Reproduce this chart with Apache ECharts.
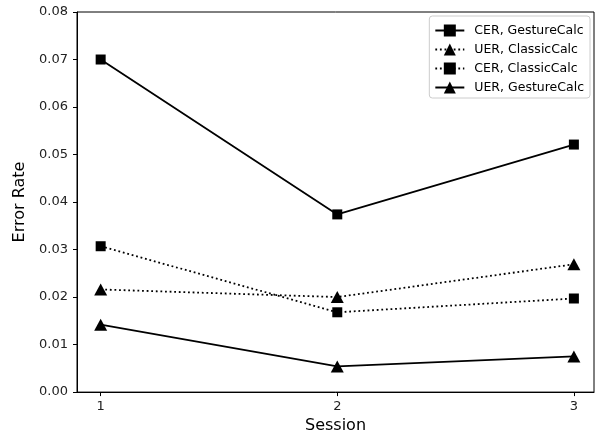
<!DOCTYPE html>
<html>
<head>
<meta charset="utf-8">
<script src="https://cdn.jsdelivr.net/npm/echarts@6/dist/echarts.min.js"></script>
<style>html,body{margin:0;padding:0;background:#fff;}#c{width:600px;height:439px;}</style>
</head>
<body>
<div id="c"></div>
<script>
const sessions = [1, 2, 3];
const yTicks = [0, 0.01, 0.02, 0.03, 0.04, 0.05, 0.06, 0.07, 0.08];
const cerGesture = [0.0700, 0.0374, 0.0521];
const uerClassic = [0.0216, 0.0200, 0.0269];
const cerClassic = [0.0307, 0.0168, 0.0197];
const uerGesture = [0.0142, 0.0054, 0.0075];

const FONT = 'DejaVu Sans';
function pairs(vals) { return sessions.map((s, i) => [s, vals[i]]); }
function mk(name, vals, symbol, dotted) {
  return {
    name: name, type: 'line', data: pairs(vals),
    symbol: symbol,
    symbolSize: symbol === 'rect' ? 10 : [13, 12],
    showAllSymbol: true,
    itemStyle: { color: '#000' },
    lineStyle: { color: '#000', width: 1.8, type: dotted ? [1.8, 2.8] : 'solid' },
    emphasis: { disabled: true },
    animation: false,
    z: 3
  };
}

const chart = echarts.init(document.getElementById('c'), null, { renderer: 'canvas' });
chart.setOption({
  backgroundColor: '#fff',
  animation: false,
  grid: { left: 77, right: 6, top: 12, bottom: 46, show: true, borderColor: '#000', borderWidth: 1, containLabel: false },
  legend: {
    orient: 'vertical', right: 10, top: 16,
    padding: [8, 6, 4, 5],
    itemWidth: 29, itemHeight: 15, itemGap: 6,
    borderColor: '#ccc', borderWidth: 1, borderRadius: 3,
    backgroundColor: 'rgba(255,255,255,0.8)',
    textStyle: { fontFamily: FONT, fontSize: 12.5, color: '#000', padding: [0, 0, 0, 5] },
    data: ['CER, GestureCalc', 'UER, ClassicCalc', 'CER, ClassicCalc', 'UER, GestureCalc']
  },
  xAxis: {
    type: 'value', min: 0.9, max: 3.085,
    name: 'Session', nameLocation: 'middle', nameGap: 24,
    nameTextStyle: { fontFamily: FONT, fontSize: 16, color: '#000' },
    axisLine: { show: true, onZero: false, lineStyle: { color: '#000', width: 1 } },
    axisTick: { show: true, length: 4, inside: false, customValues: sessions, lineStyle: { color: '#000' } },
    axisLabel: { customValues: sessions, margin: 8, fontFamily: FONT, fontSize: 13, color: '#222', formatter: v => String(v) },
    splitLine: { show: false }
  },
  yAxis: {
    type: 'value', min: 0, max: 0.08, interval: 0.01,
    name: 'Error Rate', nameLocation: 'middle', nameGap: 47, nameRotate: 90,
    nameTextStyle: { fontFamily: FONT, fontSize: 16, color: '#000' },
    axisLine: { show: true, lineStyle: { color: '#000', width: 1 } },
    axisTick: { show: true, length: 4, inside: false, lineStyle: { color: '#000' } },
    axisLabel: { margin: 9, fontFamily: FONT, fontSize: 13, color: '#222', formatter: v => v.toFixed(2) },
    splitLine: { show: false }
  },
  series: [
    mk('CER, GestureCalc', cerGesture, 'rect', false),
    mk('UER, ClassicCalc', uerClassic, 'triangle', true),
    mk('CER, ClassicCalc', cerClassic, 'rect', true),
    mk('UER, GestureCalc', uerGesture, 'triangle', false)
  ]
});
</script>
</body>
</html>
